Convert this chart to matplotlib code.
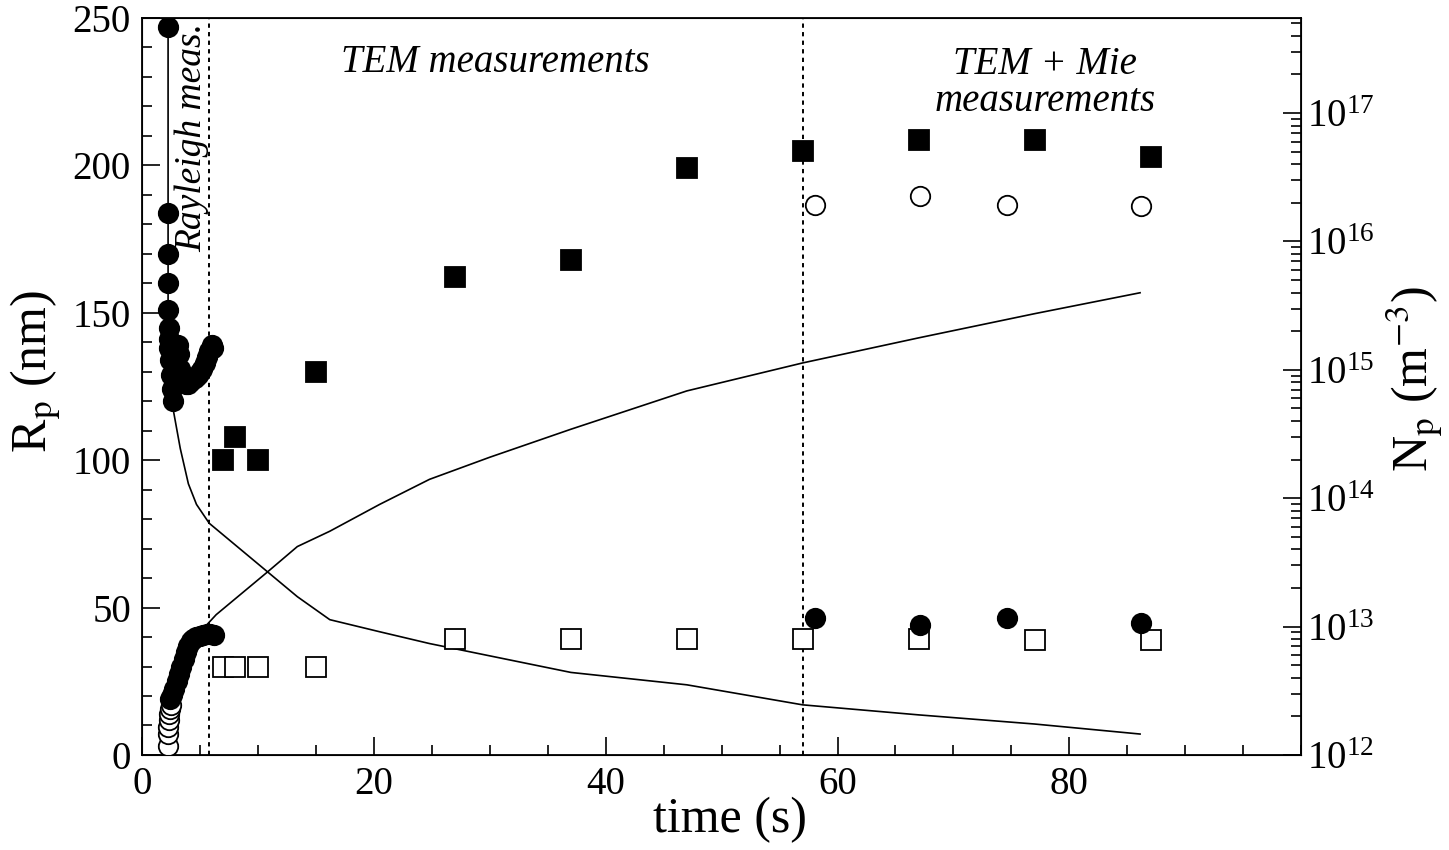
import numpy as np
import matplotlib
matplotlib.use("Agg")
import matplotlib.pyplot as plt
from matplotlib.ticker import MultipleLocator, LogLocator, NullFormatter

plt.rcParams["font.family"] = ["Liberation Serif", "DejaVu Serif"]
plt.rcParams["mathtext.fontset"] = "stix"

# Rayleigh scattering: early growth phase
ray_t_upper = [2.25, 2.25, 2.25, 2.25, 2.25, 2.3, 2.3, 2.35, 2.4, 2.5, 2.6, 2.7, 2.8,
               2.9, 3.0, 3.1, 3.2, 3.3, 3.4, 3.6, 3.8, 4.0, 4.2, 4.4, 4.6, 4.8, 5.0,
               5.2, 5.4, 5.6, 5.8, 6.0, 6.1]
ray_r_upper = [247, 184, 170, 160, 151, 145, 141, 138, 134, 129, 124, 120, 126,
               132, 137, 139, 136, 131, 128, 127, 126, 126, 127, 128, 128, 129, 130,
               131, 133, 135, 137, 139, 138]

ray_t_open = [2.2, 2.2, 2.25, 2.3, 2.35, 2.4, 2.5]
ray_r_open = [3, 7, 9.5, 12, 14, 15.5, 17]

ray_t_lower = [2.4, 2.6, 2.8, 3.0, 3.2, 3.4, 3.6, 3.8, 4.0, 4.2, 4.4, 4.7, 5.0,
               5.3, 5.6, 5.9, 6.2]
ray_r_lower = [19, 20.5, 22.5, 25, 27.5, 30, 32.5, 35, 37, 38.5, 39.5, 40, 40.5,
               40.8, 41, 41, 40.8]

# TEM samples
tem_t = [7, 8, 10, 15, 27, 37, 47, 57, 67, 77, 87]
tem_filled = [100, 108, 100, 130, 162, 168, 199, 205, 208.5, 208.5, 203]
tem_open = [30, 30, 30, 30, 39.5, 39.5, 39.5, 39.5, 39.5, 39, 39]

# Mie scattering: late phase
mie_t = [58.1, 67.1, 74.6, 86.2]
mie_open = [186.7, 189.5, 186.7, 186.4]
mie_filled = [46.3, 44.2, 46.3, 44.9]

# Model curves
model_up_t = [5.6, 6.4, 10.8, 13.4, 16.2, 20.5, 24.8, 30, 37, 47, 57, 67, 77, 86.1]
model_up_r = [44.2, 47.6, 62, 70.7, 75.9, 85, 93.5, 101, 110.5, 123.5, 133, 141.5,
              149.7, 156.8]
model_down_t = [2.25, 2.25, 2.7, 3.3, 4.0, 4.7, 5.8, 13.4, 16.2, 20.5, 24.8, 37, 47,
                57, 67, 77, 86.1]
model_down_r = [247, 144, 117, 104, 92, 85, 78.6, 53.7, 45.9, 41.8, 37.8, 28, 23.8,
                17, 13.6, 10.5, 7.1]

rayleigh_end = 5.8
mie_start = 57.0

fig = plt.figure(figsize=(14.49, 8.5), dpi=100)
ax = fig.add_axes([0.098, 0.1118, 0.8, 0.867])

ax.plot(model_down_t, model_down_r, color="black", lw=1.2, zorder=2)
ax.plot(model_up_t, model_up_r, color="black", lw=1.2, zorder=2)

ax.axvline(rayleigh_end, color="black", lw=1.4, ls=(0, (2.2, 2.2)), zorder=1)
ax.axvline(mie_start, color="black", lw=1.4, ls=(0, (2.2, 2.2)), zorder=1)

circ = dict(ls="none", marker="o", ms=14, mec="black", mew=1.3)
sq = dict(ls="none", marker="s", ms=15, mec="black", mew=1.3)

ax.plot(ray_t_open, ray_r_open, mfc="white", zorder=3, **circ)
ax.plot(ray_t_lower, ray_r_lower, mfc="black", zorder=4, **circ)
ax.plot(ray_t_upper, ray_r_upper, mfc="black", zorder=4, **circ)

ax.plot(tem_t, tem_filled, mfc="black", zorder=4, **sq)
ax.plot(tem_t, tem_open, mfc="white", zorder=3, **sq)

ax.plot(mie_t, mie_open, mfc="white", zorder=3, **circ)
ax.plot(mie_t, mie_filled, mfc="black", zorder=4, **circ)

ax.set_xlim(0, 100)
ax.set_ylim(0, 250)
ax.xaxis.set_major_locator(MultipleLocator(20))
ax.xaxis.set_minor_locator(MultipleLocator(5))
ax.yaxis.set_major_locator(MultipleLocator(50))
ax.yaxis.set_minor_locator(MultipleLocator(10))
ax.set_xticks([0, 20, 40, 60, 80])
ax.tick_params(which="both", direction="in", top=False, right=False,
               labelsize=28, width=1.2, pad=8)
ax.tick_params(which="major", length=13)
ax.tick_params(which="minor", length=7)
for s in ax.spines.values():
    s.set_linewidth(1.3)

ax.set_xlabel("time (s)", fontsize=36)
ax.xaxis.set_label_coords(0.507, -0.057)
ax.set_ylabel(r"R$_\mathrm{p}$ (nm)", fontsize=36)
ax.yaxis.set_label_coords(-0.068, 0.52)

# density axis
ax2 = ax.twinx()
ax2.set_yscale("log")
ax2.set_ylim(1e12, 5.5e17)
ax2.yaxis.set_major_locator(LogLocator(base=10, numticks=10))
ax2.yaxis.set_minor_locator(LogLocator(base=10, subs=np.arange(2, 10), numticks=20))
ax2.yaxis.set_minor_formatter(NullFormatter())
ax2.tick_params(which="both", direction="in", labelsize=28, width=1.2, pad=4)
ax2.tick_params(which="major", length=13)
ax2.tick_params(which="minor", length=7)
ax2.set_ylabel(r"N$_\mathrm{p}$ (m$^{-3}$)", fontsize=36, rotation=90)
ax2.yaxis.set_label_coords(1.072, 0.51)

ax.text(30.5, 235, "TEM measurements", style="italic", fontsize=28,
        ha="center", va="center")
ax.text(77.9, 228, "TEM + Mie\nmeasurements", style="italic", fontsize=28,
        ha="center", va="center", linespacing=1.0)
ax.text(4.3, 209.5, "Rayleigh meas.", style="italic", fontsize=27,
        ha="center", va="center", rotation=90)

fig.savefig("out.png", dpi=100)
